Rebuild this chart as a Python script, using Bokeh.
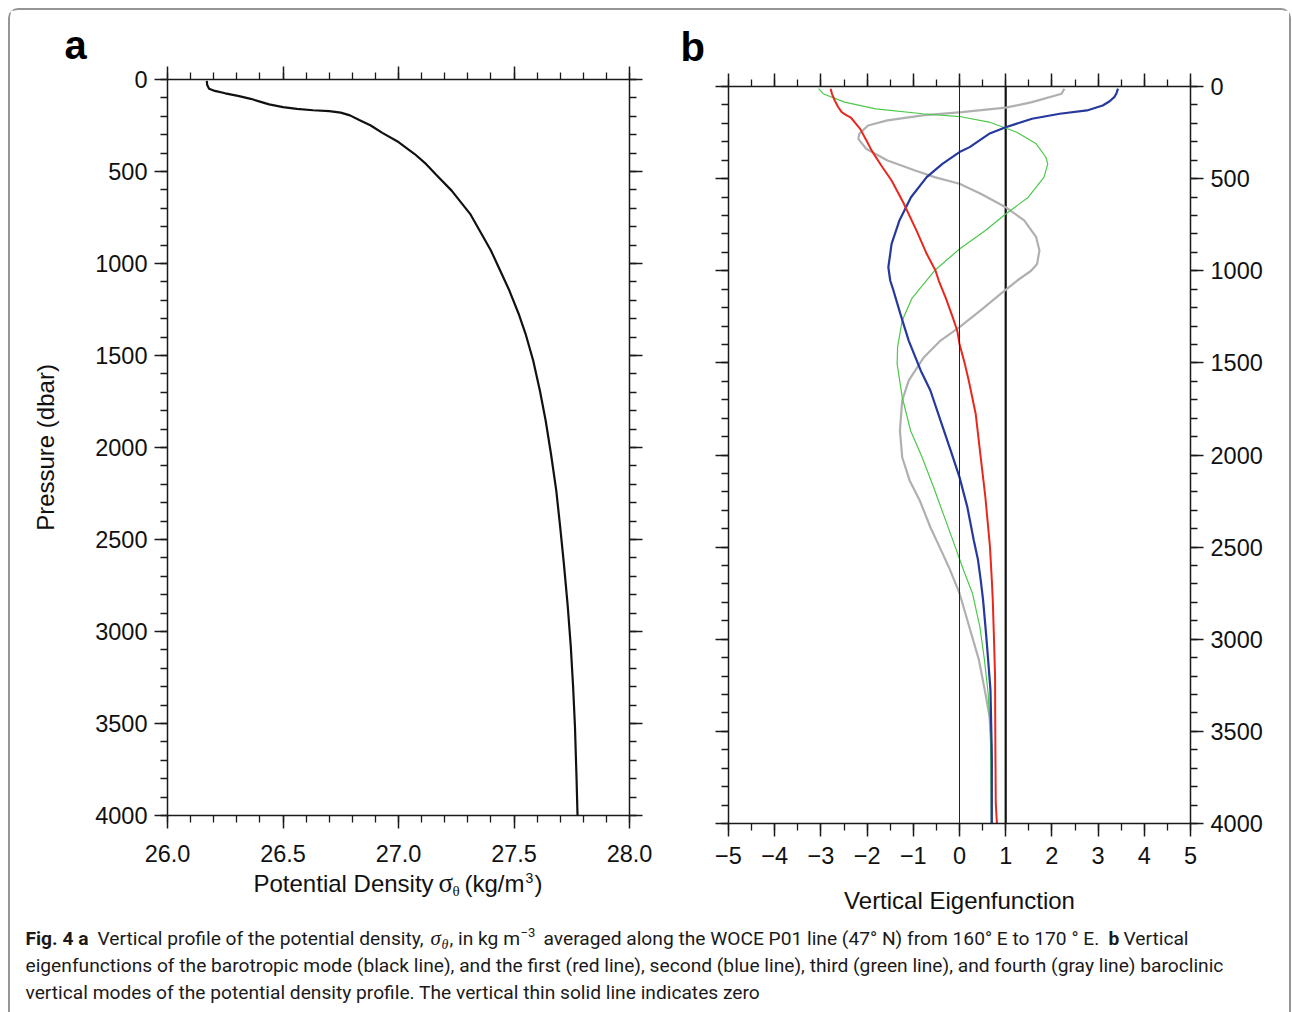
from bokeh.plotting import figure
from bokeh.models import Range1d, FixedTicker, LinearAxis, Label, Span
from bokeh.layouts import column, row
from bokeh.embed import file_html
from bokeh.resources import INLINE

# ---------------- data ----------------
# Panel a: potential density profile
density_pressure = [8, 30, 50, 62, 75, 90, 105, 120, 135, 150, 160, 167, 172, 180, 195, 220,
                    250, 290, 340, 405, 460, 514, 604, 730, 874, 929, 1038, 1147, 1273, 1382,
                    1527, 1690, 1853, 2034, 2234, 2433, 2632, 2868, 3085, 3303, 3520, 3810, 4000]
density_sigma = [26.170, 26.172, 26.180, 26.205, 26.25, 26.31, 26.36, 26.40, 26.44, 26.50, 26.56,
                 26.63, 26.70, 26.75, 26.79, 26.83, 26.88, 26.93, 27.00, 27.07, 27.12, 27.16,
                 27.23, 27.31, 27.375, 27.40, 27.44, 27.48, 27.52, 27.55, 27.583, 27.612, 27.637,
                 27.66, 27.683, 27.70, 27.716, 27.733, 27.746, 27.756, 27.764, 27.771, 27.775]

# Panel b: vertical eigenfunctions
baro_p = [0, 4000]
baro_v = [1.0, 1.0]

mode1_p = [12, 40, 76, 110, 139, 155, 167, 190, 230, 290, 348, 430, 510, 628, 782, 908, 999, 1053,
           1153, 1250, 1324, 1397, 1500, 1596, 1776, 1993, 2229, 2500, 2681, 2786, 2986, 3203,
           3511, 3891, 4000]
mode1_v = [-2.79, -2.76, -2.70, -2.63, -2.55, -2.45, -2.36, -2.28, -2.15, -2.02, -1.90, -1.69,
           -1.47, -1.22, -0.93, -0.71, -0.52, -0.45, -0.29, -0.15, -0.05, 0.0, 0.11, 0.20, 0.35,
           0.45, 0.56, 0.66, 0.70, 0.72, 0.745, 0.77, 0.775, 0.785, 0.81]

mode2_p = [12, 35, 58, 80, 103, 130, 148, 175, 221, 257, 329, 356, 420, 492, 601, 727, 854, 981,
           1053, 1107, 1234, 1379, 1541, 1650, 1813, 1976, 2120, 2283, 2464, 2569, 2681, 2786,
           2986, 3112, 3275, 3511, 3656, 4000]
mode2_v = [3.43, 3.40, 3.35, 3.25, 3.10, 2.76, 2.17, 1.57, 1.0, 0.64, 0.22, 0.0, -0.37, -0.71,
           -1.05, -1.30, -1.47, -1.54, -1.50, -1.43, -1.28, -1.10, -0.84, -0.63, -0.41, -0.19,
           0.0, 0.17, 0.31, 0.40, 0.46, 0.51, 0.58, 0.62, 0.67, 0.69, 0.70, 0.70]

mode3_p = [12, 39, 85, 121, 148, 163, 193, 248, 311, 384, 420, 492, 601, 692, 782, 882, 999, 1150,
           1270, 1415, 1505, 1686, 1867, 2012, 2175, 2355, 2500, 2627, 2750, 2931, 3112, 3293,
           3511, 4000]
mode3_v = [-3.05, -2.95, -2.49, -1.81, -0.80, 0.0, 0.64, 1.24, 1.66, 1.87, 1.91, 1.83, 1.49, 1.0,
           0.56, 0.0, -0.54, -1.03, -1.24, -1.34, -1.35, -1.24, -1.06, -0.81, -0.56, -0.30,
           -0.09, 0.09, 0.28, 0.44, 0.54, 0.62, 0.67, 0.69]

mode4_p = [12, 39, 85, 115, 139, 157, 184, 212, 257, 284, 338, 402, 456, 492, 528, 583, 655, 727,
           818, 890, 963, 1000, 1053, 1125, 1216, 1306, 1379, 1469, 1596, 1704, 1867, 2012, 2138,
           2247, 2392, 2500, 2609, 2750, 2931, 3112, 3293, 3420, 3583, 4000]
mode4_v = [2.27, 2.21, 1.57, 1.0, 0.05, -0.80, -1.56, -1.98, -2.17, -2.19, -2.02, -1.56, -0.96,
           -0.54, 0.0, 0.47, 1.0, 1.40, 1.66, 1.73, 1.68, 1.55, 1.25, 0.89, 0.45, 0.0, -0.41,
           -0.77, -1.10, -1.24, -1.29, -1.24, -1.08, -0.86, -0.63, -0.43, -0.23, 0.0, 0.21, 0.42,
           0.56, 0.65, 0.69, 0.69]

# ticks and tick labels
density_ticks = [26.0, 26.5, 27.0, 27.5, 28.0]
density_tick_labels = ["26.0", "26.5", "27.0", "27.5", "28.0"]
density_minor = [26.0 + 0.1 * i for i in range(21)]
pressure_ticks = [0, 500, 1000, 1500, 2000, 2500, 3000, 3500, 4000]
pressure_tick_labels = ["0", "500", "1000", "1500", "2000", "2500", "3000", "3500", "4000"]
pressure_minor = list(range(0, 4001, 100))
eig_ticks = [-5, -4, -3, -2, -1, 0, 1, 2, 3, 4, 5]
eig_tick_labels = ["\u22125", "\u22124", "\u22123", "\u22122", "\u22121", "0", "1", "2", "3", "4", "5"]
eig_minor = [-5 + 0.5 * i for i in range(21)]

FONT = "Liberation Sans"
SERIF = "Liberation Serif"
TICK_SIZE = "23.5px"
CAP_FONT = "Roboto"

def style_axis(ax, labels, standoff=7):
    ax.axis_line_width = 1.5
    ax.axis_line_color = "#1a1a1a"
    ax.major_tick_line_width = 1.5
    ax.major_tick_line_color = "#1a1a1a"
    ax.minor_tick_line_width = 1.3
    ax.minor_tick_line_color = "#1a1a1a"
    ax.major_tick_in = 0
    ax.major_tick_out = 13
    ax.minor_tick_in = 0
    ax.minor_tick_out = 7
    ax.major_label_text_font = FONT
    if labels:
        ax.major_label_text_font_size = TICK_SIZE
        ax.major_label_text_color = "#111111"
        ax.major_label_standoff = standoff
    else:
        ax.major_label_text_font_size = "0px"
        ax.major_label_text_color = None
        ax.major_label_standoff = 0
    ax.axis_label_text_font = FONT
    ax.axis_label_text_font_size = "24px"
    ax.axis_label_text_font_style = "normal"
    ax.axis_label_text_color = "#111111"

def make_ticker(major, minor):
    return FixedTicker(ticks=major, minor_ticks=minor)

def style_letter(fig, offset, standoff):
    t = fig.title
    t.text_font = FONT
    t.text_font_size = "40px"
    t.text_font_style = "bold"
    t.text_color = "black"
    t.align = "left"
    t.offset = offset
    t.standoff = standoff

ORG_X, ORG_Y = 10, 10
ROW_BOTTOM = 873
OVERLAP = 9                      # bottom strip slides up under the (empty) row margin
STRIP_TOP = ROW_BOTTOM - OVERLAP

# ---------------- panel a ----------------
pa = figure(frame_width=462, frame_height=736, x_range=Range1d(26.0, 28.0),
            y_range=Range1d(4000, 0), output_backend="svg", toolbar_location=None, title="a",
            min_border_left=157, min_border_right=41, min_border_top=79 - ORG_Y,
            min_border_bottom=ROW_BOTTOM - 815,
            background_fill_color="white", border_fill_color="white")
pa.outline_line_color = None
pa.grid.visible = False
style_letter(pa, 64 - 167, 0)

xa = pa.xaxis[0]
xa.ticker = make_ticker(density_ticks, density_minor)
xa.major_label_overrides = dict(zip(density_ticks, density_tick_labels))
style_axis(xa, True, standoff=16)
ya = pa.yaxis[0]
ya.ticker = make_ticker(pressure_ticks, pressure_minor)
ya.major_label_overrides = dict(zip(pressure_ticks, pressure_tick_labels))
style_axis(ya, True, standoff=7)
ya.axis_label = "Pressure (dbar)"
ya.axis_label_standoff = 33

xa_top = LinearAxis(ticker=make_ticker(density_ticks, density_minor))
style_axis(xa_top, False)
pa.add_layout(xa_top, "above")
ya_right = LinearAxis(ticker=make_ticker(pressure_ticks, pressure_minor))
style_axis(ya_right, False)
pa.add_layout(ya_right, "right")

pa.line(density_sigma, density_pressure, line_color="#111111", line_width=2.2)

# ---------------- panel b ----------------
pb = figure(frame_width=462, frame_height=737, x_range=Range1d(-5, 5),
            y_range=Range1d(4000, 0), output_backend="svg", toolbar_location=None, title="b",
            y_axis_location="right",
            min_border_left=58, min_border_right=99, min_border_top=86 - ORG_Y,
            min_border_bottom=ROW_BOTTOM - 823,
            background_fill_color="white", border_fill_color="white")
pb.outline_line_color = None
pb.grid.visible = False
style_letter(pb, 680 - 728, 10)

xb = pb.xaxis[0]
xb.ticker = make_ticker(eig_ticks, eig_minor)
xb.major_label_overrides = dict(zip(eig_ticks, eig_tick_labels))
style_axis(xb, True, standoff=10)
yb = pb.yaxis[0]
yb.ticker = make_ticker(pressure_ticks, pressure_minor)
yb.major_label_overrides = dict(zip(pressure_ticks, pressure_tick_labels))
style_axis(yb, True, standoff=7)

xb_top = LinearAxis(ticker=make_ticker(eig_ticks, eig_minor))
style_axis(xb_top, False)
pb.add_layout(xb_top, "above")
yb_left = LinearAxis(ticker=make_ticker(pressure_ticks, pressure_minor))
style_axis(yb_left, False)
pb.add_layout(yb_left, "left")

pb.add_layout(Span(location=0, dimension="height", line_color="#222222", line_width=1))
pb.line(baro_v, baro_p, line_color="#111111", line_width=2.2)
pb.line(mode4_v, mode4_p, line_color="#b0b0b0", line_width=2.2)
pb.line(mode3_v, mode3_p, line_color="#4cc84a", line_width=1.2)
pb.line(mode2_v, mode2_p, line_color="#26399c", line_width=2.2)
pb.line(mode1_v, mode1_p, line_color="#e8281e", line_width=2.0)

# ---------------- bottom strip: axis titles + caption ----------------
BOT_H = 1012 - STRIP_TOP
bot = figure(frame_width=1279, frame_height=BOT_H, x_range=Range1d(0, 1279),
             y_range=Range1d(BOT_H, 0), output_backend="svg", toolbar_location=None,
             x_axis_location=None, y_axis_location=None, min_border=0, title=None,
             background_fill_color=None, border_fill_color=None,
             styles={"margin-top": f"-{OVERLAP}px"})
bot.outline_line_color = None
bot.grid.visible = False

def put(x, y, t, font=FONT, size=24, style="normal", align="left", color="#111111"):
    # y is the wanted baseline in page pixels; the label anchor sits ~0.345 em above it
    bot.add_layout(Label(x=x - ORG_X, y=y - STRIP_TOP - 0.345 * size, text=t, text_font=font,
                         text_font_size=f"{size}px", text_font_style=style, text_color=color,
                         text_align=align, text_baseline="alphabetic"))

# panel a x-axis title with subscript / superscript
put(253, 891.5, "Potential Density")
put(438, 891.5, "\u03c3", font=SERIF, size=27)
put(452, 895.5, "\u03b8", font=SERIF, size=15)
put(464, 891.5, "(kg/m")
put(525, 882.5, "3", size=14)
put(534, 891.5, ")")
# panel b x-axis title
put(959, 908, "Vertical Eigenfunction", align="center")

CS = 19.2
CC = "#1a1a1a"
L1, L2, L3 = 944.5, 971.5, 998.5
put(25, L1, "Fig. 4 a", font=CAP_FONT, size=CS, style="bold", color=CC)
put(97, L1, "Vertical profile of the potential density,", font=CAP_FONT, size=CS, color=CC)
put(430, L1, "\u03c3", font=SERIF, size=21, style="italic", color=CC)
put(441, L1 + 4, "\u03b8", font=SERIF, size=14, style="italic", color=CC)
put(449, L1, ", in kg m", font=CAP_FONT, size=CS, color=CC)
put(520, L1 - 8, "\u22123", font=CAP_FONT, size=13, color=CC)
put(543, L1, "averaged along the WOCE P01 line (47\u00b0 N) from 160\u00b0 E to 170 \u00b0 E.",
    font=CAP_FONT, size=CS, color=CC)
put(1108, L1, "b", font=CAP_FONT, size=CS, style="bold", color=CC)
put(1123, L1, "Vertical", font=CAP_FONT, size=CS, color=CC)
put(25, L2, "eigenfunctions of the barotropic mode (black line), and the first (red line), "
            "second (blue line), third (green line), and fourth (gray line) baroclinic",
    font=CAP_FONT, size=CS, color=CC)
put(25, L3, "vertical modes of the potential density profile. The vertical thin solid line "
            "indicates zero", font=CAP_FONT, size=CS, color=CC)

layout = column(
    row(pa, column(pb)),
    bot,
    styles={
        "margin-left": "8px",
        "margin-top": "8px",
        "border-top": "2px solid #959595",
        "border-left": "2px solid #959595",
        "border-right": "2px solid #959595",
        "border-top-left-radius": "10px",
        "border-top-right-radius": "10px",
        "background": "white",
    },
)

open("out.html", "w").write(file_html(layout, INLINE))
